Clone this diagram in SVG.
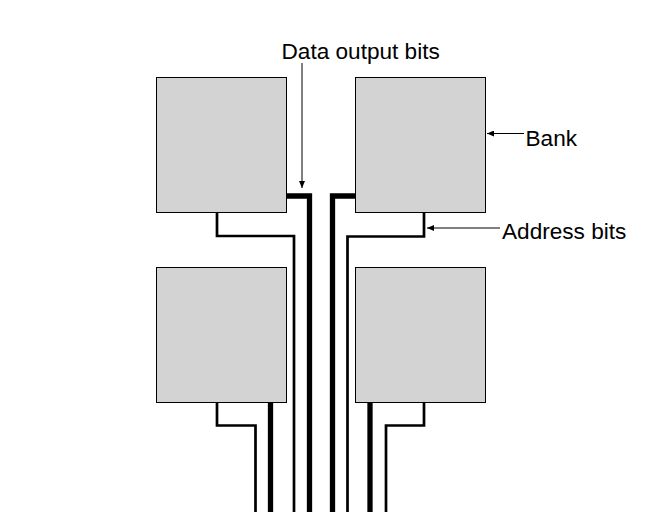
<svg xmlns="http://www.w3.org/2000/svg" width="667" height="526" viewBox="0 0 667 526">
<style>
.bank{fill:#d3d3d3;stroke:#000;stroke-width:1}
.thin{fill:none;stroke:#000;stroke-width:2.7;stroke-linejoin:miter}
.thick{fill:none;stroke:#000;stroke-width:5.3;stroke-linejoin:miter}
.lead{fill:none;stroke:#000;stroke-width:1}
.lbl{font-family:"Liberation Sans",Arial,sans-serif;font-size:22.6px;fill:#000}
</style>
<defs>
<marker id="ah" markerUnits="userSpaceOnUse" markerWidth="8" markerHeight="6" refX="7" refY="3" orient="auto">
<path d="M0,0 L7,3 L0,6 Z" fill="#000"/>
</marker>
</defs>
<rect width="667" height="526" fill="#fff"/>
<g id="bank-tl"><rect class="bank" x="156.5" y="77.5" width="130" height="135"/></g>
<g id="bank-tr"><rect class="bank" x="355.5" y="77.5" width="130" height="135"/></g>
<g id="bank-bl"><rect class="bank" x="156.5" y="267.5" width="130" height="135"/></g>
<g id="bank-br"><rect class="bank" x="355.5" y="267.5" width="130" height="135"/></g>
<g id="connectors">
<path class="thin" d="M217,213 V236 H294 V512"/>
<path class="thick" d="M287,196 H309.5 V512"/>
<path class="thick" d="M355,196 H332.5 V512"/>
<path class="thin" d="M424,213 V236.5 H347.5 V512"/>
<path class="thin" d="M217,403 V425.5 H255.5 V512"/>
<path class="thick" d="M270.5,403 V512"/>
<path class="thick" d="M370,403 V512"/>
<path class="thin" d="M424,403 V425.5 H386 V512"/>
<path class="lead" d="M302,63 V188" marker-end="url(#ah)"/>
<path class="lead" d="M524,133.5 H487" marker-end="url(#ah)"/>
<path class="lead" d="M500,228 H427" marker-end="url(#ah)"/>
</g>
<g id="labels">
<text class="lbl" x="281.5" y="59">Data output bits</text>
<text class="lbl" x="525.5" y="146">Bank</text>
<text class="lbl" x="502" y="238.5">Address bits</text>
</g>
</svg>
